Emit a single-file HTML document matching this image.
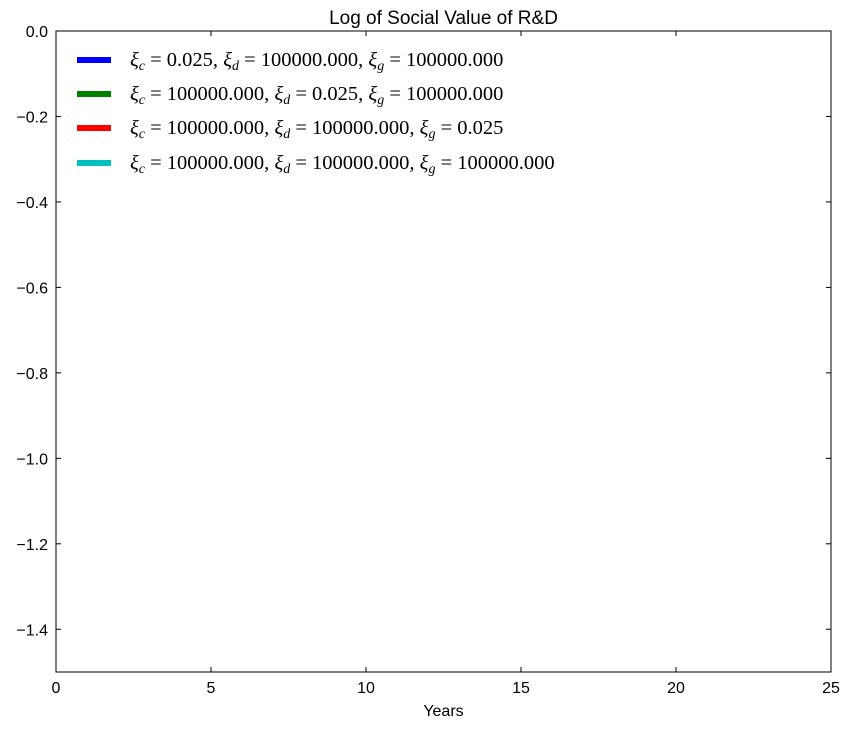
<!DOCTYPE html>
<html><head><meta charset="utf-8">
<style>
body{margin:0;background:#fff;}
svg text{font-family:"Liberation Sans",sans-serif;}
.leg{font-family:"Liberation Serif",serif;font-size:20.5px;}
</style></head>
<body>
<svg id="chart" width="851" height="730" xmlns="http://www.w3.org/2000/svg">
<rect x="0" y="0" width="851" height="730" fill="#fff"/>
<g id="plot"></g>
</svg>
<script>
const xTicks = [0, 5, 10, 15, 20, 25];
const yTicks = [0.0, -0.2, -0.4, -0.6, -0.8, -1.0, -1.2, -1.4];
const yTickLabels = ["0.0", "\u22120.2", "\u22120.4", "\u22120.6", "\u22120.8", "\u22121.0", "\u22121.2", "\u22121.4"];
const seriesNames = ["xi-c-small", "xi-d-small", "xi-g-small", "all-large"];
const seriesColors = ["#0000ff", "#008000", "#ff0000", "#00bfbf"];
const seriesBlue = [];
const seriesGreen = [];
const seriesRed = [];
const seriesCyan = [];
const years = [];

const L=56, R=831, T=31, B=672;
const xMin=0, xMax=25, yMin=-1.5, yMax=0;
function xs(v){return L+(v-xMin)/(xMax-xMin)*(R-L);}
function ys(v){return T+(yMax-v)/(yMax-yMin)*(B-T);}
const NS="http://www.w3.org/2000/svg";
const g=document.getElementById('plot');
function mk(tag,attrs,parent){const e=document.createElementNS(NS,tag);for(const k in attrs)e.setAttribute(k,attrs[k]);(parent||g).appendChild(e);return e;}

[seriesBlue,seriesGreen,seriesRed,seriesCyan].forEach((s,i)=>{
  if(!s.length)return;
  const p=mk('polyline',{points:s.map((v,j)=>xs(years[j])+','+ys(v)).join(' '),fill:'none',stroke:seriesColors[i],'stroke-width':2});
  
  
});

const fr=mk('rect',{x:L,y:T,width:R-L,height:B-T,fill:'none',stroke:'#000','stroke-width':1});



xTicks.forEach(v=>{
  const x=xs(v);
  mk('line',{x1:x,y1:B,x2:x,y2:B-5,stroke:'#000'});
  mk('line',{x1:x,y1:T,x2:x,y2:T+5,stroke:'#000'});
  const t=mk('text',{x:x,y:B+21,'text-anchor':'middle','font-size':16});
  t.textContent=v;
  
  
});
yTicks.forEach((v,i)=>{
  const y=ys(v);
  mk('line',{x1:L,y1:y,x2:L+5,y2:y,stroke:'#000'});
  mk('line',{x1:R,y1:y,x2:R-5,y2:y,stroke:'#000'});
  const t=mk('text',{x:L-8,y:y+6,'text-anchor':'end','font-size':16});
  t.textContent=yTickLabels[i];
  
  
});
const ti=mk('text',{x:(L+R)/2,y:24,'text-anchor':'middle','font-size':19});
ti.textContent='Log of Social Value of R&D';


const xl=mk('text',{x:(L+R)/2,y:716,'text-anchor':'middle','font-size':16});
xl.textContent='Years';



const legY=[60,94,128,163];
const legParts=[
  [["0.025"],["100000.000"],["100000.000"]],
  [["100000.000"],["0.025"],["100000.000"]],
  [["100000.000"],["100000.000"],["0.025"]],
  [["100000.000"],["100000.000"],["100000.000"]]
];
const subs=['c','d','g'];
legParts.forEach((parts,i)=>{
  const ln=mk('line',{x1:77,y1:legY[i],x2:111,y2:legY[i],stroke:seriesColors[i],'stroke-width':6});
  
  
  const t=mk('text',{x:130,y:legY[i]+6,class:'leg'});
  
  
  parts.forEach((p,k)=>{
    const a=document.createElementNS(NS,'tspan');a.setAttribute('font-style','italic');a.textContent='\u03be';t.appendChild(a);
    const b=document.createElementNS(NS,'tspan');b.setAttribute('font-style','italic');b.setAttribute('font-size','14');b.setAttribute('dy','4');b.textContent=subs[k];t.appendChild(b);
    const c=document.createElementNS(NS,'tspan');c.setAttribute('dy','-4');c.textContent=' = '+p[0]+(k<2?', ':'');t.appendChild(c);
  });
});
</script>
</body></html>
